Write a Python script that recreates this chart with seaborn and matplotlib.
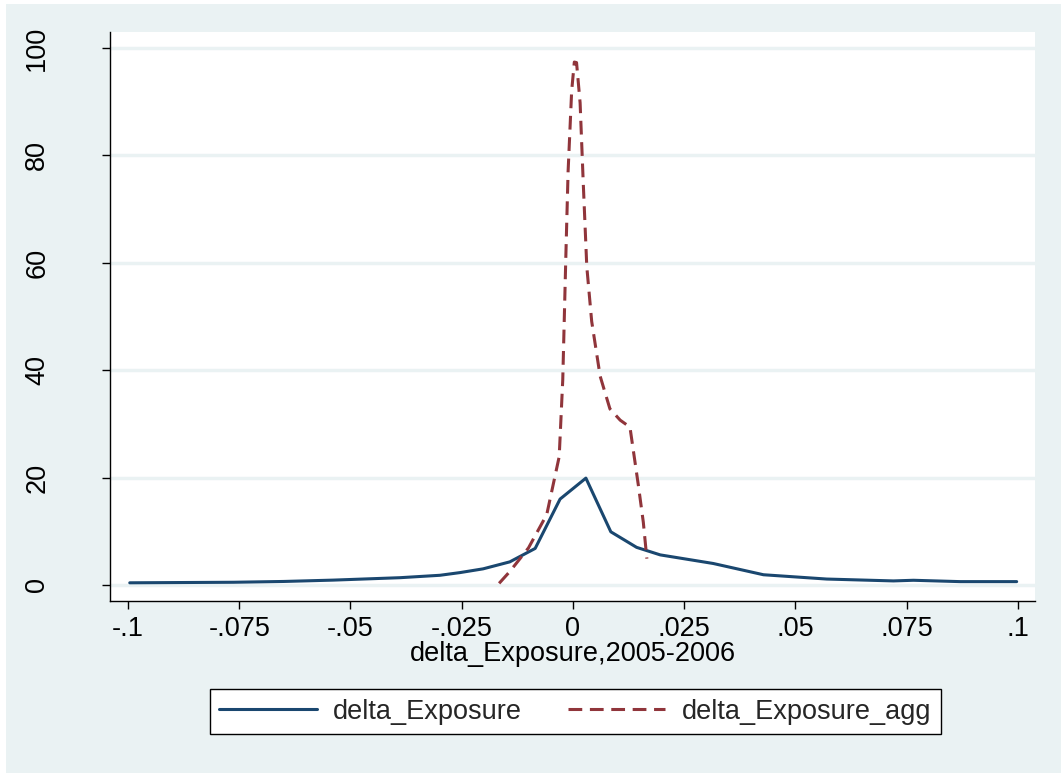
import matplotlib
matplotlib.use('Agg')
import matplotlib.pyplot as plt
from matplotlib.patches import Rectangle
import seaborn as sns
import pandas as pd

# ================================================ DATA ===============================================================

exposure_x = [-0.0996, -0.088, -0.0763, -0.065, -0.0539, -0.0389, -0.0299, -0.0254, -0.0202, -0.0142,
              -0.0085, -0.0029, 0.0029, 0.0085, 0.0143, 0.0196, 0.0315, 0.0428, 0.057, 0.072, 0.0765,
              0.087, 0.0997]
exposure_y = [0.4, 0.45, 0.5, 0.65, 0.9, 1.35, 1.8, 2.3, 3.0, 4.3,
              6.8, 16.0, 19.9, 9.9, 7.0, 5.6, 4.0, 1.9, 1.1, 0.75, 0.87,
              0.62, 0.62]

agg_x = [-0.0166, -0.0142, -0.0100, -0.0059, -0.0031, -0.0023, -0.0016, -0.0011, -0.0003, 0.0003, 0.0008,
         0.0016, 0.0023, 0.0031, 0.0042, 0.0061, 0.0083, 0.0106, 0.0128, 0.0147, 0.0158, 0.0166]
agg_y = [0.3, 2.5, 6.9, 13.1, 23.9, 38.2, 61.4, 77.0, 92.0, 97.4, 97.3,
         89.8, 75.0, 59.3, 49.1, 38.9, 32.8, 30.7, 29.4, 18.5, 11.7, 4.9]

series_names = ['delta_Exposure', 'delta_Exposure_agg']
x_ticks = [-0.1, -0.075, -0.05, -0.025, 0, 0.025, 0.05, 0.075, 0.1]
x_tick_labels = ['-.1', '-.075', '-.05', '-.025', '0', '.025', '.05', '.075', '.1']
y_ticks = [0, 20, 40, 60, 80, 100]
x_title = 'delta_Exposure,2005-2006'

# ================================================ STYLE ==============================================================

BG = '#EAF2F3'
COLORS = {'delta_Exposure': '#1A476F', 'delta_Exposure_agg': '#90353B'}
DASHES = {'delta_Exposure': '', 'delta_Exposure_agg': (4.5, 2.5)}
FS = 19.5

sns.set_style('white')
plt.rcParams['font.family'] = ['Liberation Sans', 'DejaVu Sans']

df = pd.concat([
    pd.DataFrame({'x': exposure_x, 'y': exposure_y, 'series': series_names[0]}),
    pd.DataFrame({'x': agg_x, 'y': agg_y, 'series': series_names[1]}),
], ignore_index=True)

fig = plt.figure(figsize=(10.61, 7.73), dpi=100, facecolor='white')
fig.patches.append(Rectangle((6 / 1061, 0), 1, 1 - 4 / 773, transform=fig.transFigure,
                             facecolor=BG, edgecolor='none', zorder=-10))
ax = fig.add_axes([110 / 1061, 1 - 601 / 773, 925 / 1061, 569 / 773])
ax.set_facecolor('white')

sns.lineplot(data=df, x='x', y='y', hue='series', style='series', hue_order=series_names,
             style_order=series_names, palette=COLORS, dashes=DASHES, estimator=None,
             linewidth=2.2, ax=ax, legend=False)

ax.set_xlim(-0.10404, 0.10382)
ax.set_ylim(-2.99, 103.0)
ax.set_xticks(x_ticks)
ax.set_xticklabels(x_tick_labels)
ax.set_yticks(y_ticks)
ax.yaxis.grid(True, color=BG, linewidth=2.5)
ax.xaxis.grid(False)
ax.set_axisbelow(True)

for side in ['top', 'right']:
    ax.spines[side].set_visible(False)
for side in ['left', 'bottom']:
    ax.spines[side].set_color('black')
    ax.spines[side].set_linewidth(1.0)

ax.tick_params(axis='both', which='major', direction='out', length=6, width=1, color='black',
               labelsize=FS, labelcolor='black', left=True, bottom=True)
ax.tick_params(axis='x', pad=5)
ax.tick_params(axis='y', pad=37, labelrotation=90)
for lab in ax.get_yticklabels():
    lab.set_verticalalignment('center')

ax.set_xlabel(x_title, fontsize=FS, labelpad=-1, color='black')
ax.set_ylabel('')

handles = [
    plt.Line2D([], [], color=COLORS['delta_Exposure'], linewidth=2.2),
    plt.Line2D([], [], color=COLORS['delta_Exposure_agg'], linewidth=2.2, dashes=(4.5, 2.5)),
]
leg = fig.legend(handles, series_names, loc='center', bbox_to_anchor=(0.542, 0.079),
                 bbox_transform=fig.transFigure, ncol=2, fontsize=FS, frameon=True, fancybox=False,
                 edgecolor='black', facecolor='white', framealpha=1, handlelength=3.6,
                 handletextpad=0.6, columnspacing=1.7, borderpad=0.35)
leg.get_frame().set_linewidth(1.0)

fig.savefig('out.png', dpi=100, facecolor=fig.get_facecolor())
